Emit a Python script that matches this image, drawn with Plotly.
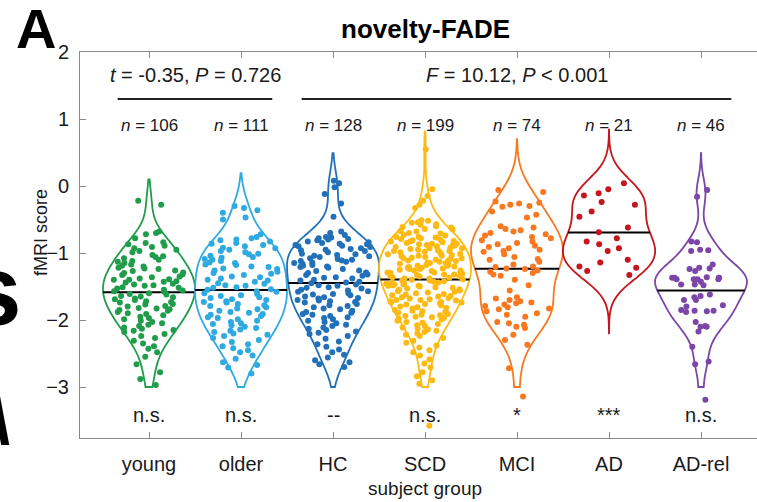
import plotly.graph_objects as go

# ---- data -------------------------------------------------------------
groups = ["young", "older", "HC", "SCD", "MCI", "AD", "AD-rel"]

young = [
    -0.22, -0.28, -0.68, -0.70, -0.72, -0.78, -0.84, -0.85, -0.87, -0.89,
    -0.91, -0.93, -0.95, -0.97, -0.99, -1.03, -1.05, -1.06, -1.08, -1.10,
    -1.12, -1.13, -1.15, -1.17, -1.19, -1.20, -1.22, -1.23, -1.24, -1.26,
    -1.27, -1.29, -1.30, -1.32, -1.33, -1.35, -1.36, -1.38, -1.39, -1.40,
    -1.40, -1.42, -1.43, -1.44, -1.46, -1.47, -1.48, -1.49, -1.51, -1.52,
    -1.53, -1.55, -1.56, -1.57, -1.58, -1.60, -1.61, -1.62, -1.64, -1.65,
    -1.66, -1.68, -1.69, -1.70, -1.72, -1.73, -1.74, -1.76, -1.77, -1.79,
    -1.80, -1.82, -1.83, -1.84, -1.85, -1.86, -1.88, -1.90, -1.91, -1.93,
    -1.95, -1.97, -1.99, -2.01, -2.03, -2.05, -2.07, -2.09, -2.11, -2.13,
    -2.15, -2.16, -2.18, -2.21, -2.24, -2.27, -2.31, -2.35, -2.39, -2.43,
    -2.48, -2.55, -2.66, -2.78, -2.88, -2.97,
]

older = [
    -0.30, -0.33, -0.36, -0.40, -0.47, -0.50, -0.72, -0.76, -0.78, -0.80,
    -0.81, -0.83, -0.85, -0.86, -0.88, -0.90, -0.92, -0.93, -0.95, -0.97,
    -0.99, -1.01, -1.02, -1.04, -1.06, -1.07, -1.09, -1.10, -1.12, -1.14,
    -1.15, -1.17, -1.18, -1.20, -1.21, -1.23, -1.24, -1.26, -1.28, -1.30,
    -1.31, -1.33, -1.35, -1.36, -1.38, -1.40, -1.41, -1.43, -1.45, -1.46,
    -1.48, -1.49, -1.51, -1.52, -1.54, -1.55, -1.57, -1.58, -1.60, -1.61,
    -1.63, -1.64, -1.66, -1.67, -1.69, -1.70, -1.72, -1.73, -1.74, -1.76,
    -1.78, -1.79, -1.81, -1.83, -1.84, -1.86, -1.88, -1.89, -1.91, -1.92,
    -1.94, -1.96, -1.97, -1.99, -2.01, -2.03, -2.05, -2.06, -2.08, -2.10,
    -2.12, -2.14, -2.16, -2.18, -2.20, -2.22, -2.24, -2.27, -2.30, -2.33,
    -2.36, -2.39, -2.42, -2.45, -2.48, -2.53, -2.58, -2.63, -2.67, -2.71,
    -2.80,
]

hc = [
    0.08, 0.04, -0.02, -0.12, -0.26, -0.46, -0.68, -0.70, -0.73, -0.76,
    -0.77, -0.78, -0.79, -0.80, -0.81, -0.83, -0.84, -0.85, -0.86, -0.87,
    -0.88, -0.89, -0.90, -0.91, -0.93, -0.94, -0.95, -0.96, -0.97, -0.99,
    -1.01, -1.02, -1.03, -1.04, -1.05, -1.06, -1.08, -1.09, -1.10, -1.11,
    -1.12, -1.13, -1.14, -1.15, -1.16, -1.18, -1.19, -1.20, -1.21, -1.22,
    -1.24, -1.26, -1.27, -1.29, -1.30, -1.32, -1.33, -1.34, -1.36, -1.37,
    -1.38, -1.40, -1.41, -1.43, -1.44, -1.45, -1.47, -1.48, -1.49, -1.51,
    -1.52, -1.53, -1.55, -1.56, -1.57, -1.58, -1.60, -1.61, -1.62, -1.63,
    -1.65, -1.66, -1.67, -1.68, -1.70, -1.71, -1.72, -1.73, -1.74, -1.76,
    -1.78, -1.79, -1.81, -1.83, -1.84, -1.86, -1.88, -1.89, -1.91, -1.92,
    -1.94, -1.96, -1.97, -1.99, -2.01, -2.03, -2.05, -2.07, -2.09, -2.11,
    -2.13, -2.15, -2.17, -2.19, -2.21, -2.24, -2.28, -2.32, -2.36, -2.40,
    -2.44, -2.48, -2.52, -2.56, -2.60, -2.63, -2.66, -2.70,
]

scd = [
    0.55, -0.05, -0.15, -0.22, -0.28, -0.33,
    -0.51, -0.52, -0.54, -0.55, -0.57, -0.58, -0.60, -0.61, -0.62, -0.64,
    -0.65, -0.67, -0.68, -0.70, -0.71, -0.73, -0.74,
    -0.76, -0.76, -0.77, -0.78, -0.79, -0.80, -0.81, -0.82, -0.83, -0.83,
    -0.84, -0.85, -0.86, -0.86, -0.87, -0.88, -0.88, -0.89, -0.90, -0.91,
    -0.92, -0.93, -0.93, -0.94, -0.95, -0.96, -0.97, -0.97, -0.98, -0.99,
    -0.99,
    -1.01, -1.01, -1.02, -1.03, -1.04, -1.04, -1.05, -1.06, -1.07, -1.08,
    -1.08, -1.09, -1.10, -1.11, -1.11, -1.12, -1.13, -1.14, -1.15, -1.15,
    -1.16, -1.17, -1.18, -1.19, -1.19, -1.20, -1.21, -1.22, -1.22, -1.23,
    -1.24, -1.24, -1.25,
    -1.26, -1.26, -1.27, -1.28, -1.29, -1.29, -1.30, -1.31, -1.32, -1.32,
    -1.33, -1.34, -1.35, -1.35, -1.36, -1.37, -1.38, -1.38, -1.39, -1.40,
    -1.41, -1.41, -1.42, -1.43, -1.44, -1.44, -1.45, -1.46, -1.47, -1.47,
    -1.48, -1.49, -1.49, -1.50,
    -1.51, -1.52, -1.53, -1.54, -1.55, -1.56, -1.57, -1.58, -1.59, -1.60,
    -1.61, -1.62, -1.63, -1.64, -1.65, -1.66, -1.67, -1.68, -1.69, -1.70,
    -1.70, -1.71, -1.72, -1.73, -1.74, -1.74, -1.75,
    -1.76, -1.77, -1.78, -1.80, -1.81, -1.82, -1.83, -1.85, -1.86, -1.87,
    -1.88, -1.89, -1.91, -1.92, -1.93, -1.94, -1.95, -1.96, -1.97, -1.98,
    -1.99,
    -2.01, -2.03, -2.04, -2.06, -2.08, -2.09, -2.11, -2.13, -2.14, -2.16,
    -2.18, -2.20, -2.22, -2.24,
    -2.27, -2.31, -2.34, -2.38, -2.41, -2.45, -2.48,
    -2.53, -2.59, -2.65, -2.71,
    -2.78, -2.84, -2.90, -2.95,
    -3.58,
]

mci = [
    -0.06, -0.09,
    -0.23, -0.25, -0.26, -0.28, -0.30, -0.31,
    -0.38, -0.43, -0.47,
    -0.60, -0.62, -0.64, -0.66, -0.68, -0.70, -0.72, -0.74, -0.76, -0.78,
    -0.81, -0.83, -0.85, -0.87, -0.89, -0.91, -0.93, -0.95,
    -0.97, -0.98, -1.02, -1.06, -1.09, -1.10, -1.13, -1.17,
    -1.20, -1.21, -1.23, -1.24, -1.26, -1.28, -1.30, -1.32, -1.34,
    -1.40, -1.48, -1.56,
    -1.66, -1.68, -1.70, -1.72, -1.74, -1.75, -1.77, -1.79, -1.81, -1.83,
    -1.84,
    -1.87, -1.90, -1.92, -1.95,
    -2.03, -2.05, -2.07, -2.10, -2.12,
    -2.22, -2.30, -2.37,
    -2.72, -3.14,
]

ad = [
    0.04, -0.05, -0.11, -0.14, -0.24, -0.28, -0.38, -0.46, -0.62, -0.69,
    -0.78, -0.83, -0.87, -0.93, -0.97, -1.10, -1.14, -1.20, -1.22, -1.27,
    -1.33,
]

ad_rel = [
    -0.06, -0.16, -0.83, -0.84, -0.95, -0.96, -0.97, -1.17, -1.22, -1.23,
    -1.24, -1.27, -1.36, -1.37, -1.37, -1.37, -1.37, -1.39, -1.39, -1.39,
    -1.39, -1.43, -1.47, -1.47, -1.48, -1.62, -1.64, -1.66, -1.70, -1.70,
    -1.78, -1.80, -1.85, -1.86, -1.86, -1.87, -1.88, -2.03, -2.09, -2.10,
    -2.10, -2.17, -2.40, -2.62, -2.66, -3.19,
]

scores = [young, older, hc, scd, mci, ad, ad_rel]
significance = ["n.s.", "n.s.", "--", "n.s.", "*", "***", "n.s."]
t_test_text = "<i>t</i> = -0.35, <i>P</i> = 0.726"
anova_text = "<i>F</i> = 10.12, <i>P</i> < 0.001"

# ---- styling ----------------------------------------------------------
colors = ["#1f9d4b", "#2eaae1", "#2271b8", "#fdba12", "#f8781f", "#c4161c", "#7b46a8"]
kde_spans = [(-3.0, 0.10), (-3.0, 0.19), (-3.0, 0.49), (-3.0, 0.81),
             (-3.0, 0.70), (-2.2, 0.84), (-3.0, 0.49)]

W, H = 757, 502
ML, MR, MT, MB = 80, 0, 52, 64
PX_PER_GROUP = 92
X_RANGE = [0.25, 0.25 + (W - ML - MR) / PX_PER_GROUP]
Y_RANGE = [-3.761, 2.0]
FONT = "Liberation Sans, Arial, sans-serif"
TXT = "#1a1a1a"
AXIS = "#8a8a8a"


def paper_x(px):
    return (px - ML) / (W - ML - MR)


def paper_y(py):
    return (H - MB - py) / (H - MT - MB)


fig = go.Figure()

for i, (name, vals) in enumerate(zip(groups, scores)):
    fig.add_trace(go.Violin(
        x0=i + 1,
        y=vals,
        name=name,
        line=dict(color=colors[i], width=1.8),
        fillcolor="rgba(0,0,0,0)",
        points="all",
        jitter=0.85,
        pointpos=0,
        marker=dict(color=colors[i], size=6, line=dict(width=0)),
        meanline=dict(visible=True, color="black", width=2),
        box=dict(visible=False),
        spanmode="manual",
        span=list(kde_spans[i]),
        scalemode="width",
        width=1.0,
        hoverinfo="skip",
        showlegend=False,
    ))

annotations = []

# group sizes and per-group significance marks
for i, (vals, sig) in enumerate(zip(scores, significance)):
    annotations.append(dict(
        x=i + 1, y=0.91, xref="x", yref="y",
        text=f"<i>n</i> = {len(vals)}", showarrow=False,
        font=dict(size=17, color=TXT, family=FONT),
    ))
    annotations.append(dict(
        x=i + 1, y=-3.425, xref="x", yref="y",
        text=sig, showarrow=False,
        font=dict(size=20, color=TXT, family=FONT),
    ))

# test statistics above the comparison bars
annotations.append(dict(x=1.5, y=1.65, xref="x", yref="y", text=t_test_text,
                        showarrow=False, font=dict(size=20, color=TXT, family=FONT)))
annotations.append(dict(x=5.0, y=1.65, xref="x", yref="y", text=anova_text,
                        showarrow=False, font=dict(size=20, color=TXT, family=FONT)))

# title, panel letter, axis titles
annotations.append(dict(x=paper_x(425), y=paper_y(29), xref="paper", yref="paper",
                        text="<b>novelty-FADE</b>", showarrow=False,
                        xanchor="center", yanchor="middle",
                        font=dict(size=26, color="black", family=FONT)))
annotations.append(dict(x=paper_x(36), y=paper_y(28), xref="paper", yref="paper",
                        text="<b>A</b>", showarrow=False,
                        xanchor="center", yanchor="middle",
                        font=dict(size=56, color="black", family=FONT)))
annotations.append(dict(x=paper_x(41), y=paper_y(233), xref="paper", yref="paper",
                        text="fMRI score", textangle=-90, showarrow=False,
                        xanchor="center", yanchor="middle",
                        font=dict(size=18, color=TXT, family=FONT)))
annotations.append(dict(x=paper_x(425), y=paper_y(488), xref="paper", yref="paper",
                        text="subject group", showarrow=False,
                        xanchor="center", yanchor="middle",
                        font=dict(size=19, color=TXT, family=FONT)))

# edges of the neighbouring panel's lettering
annotations.append(dict(x=paper_x(24), y=paper_y(290), xref="paper", yref="paper",
                        text="<b>s</b>", showarrow=False,
                        xanchor="right", yanchor="middle",
                        font=dict(size=100, color="black", family=FONT)))
annotations.append(dict(x=paper_x(12), y=paper_y(420), xref="paper", yref="paper",
                        text="<b>\\</b>", showarrow=False,
                        xanchor="right", yanchor="middle",
                        font=dict(size=68, color="black", family=FONT)))

# comparison bars
shapes = [
    dict(type="line", xref="x", yref="y", x0=0.66, x1=2.34, y0=1.30, y1=1.30,
         line=dict(color="#222222", width=2)),
    dict(type="line", xref="x", yref="y", x0=2.66, x1=7.33, y0=1.30, y1=1.30,
         line=dict(color="#222222", width=2)),
]

fig.update_layout(
    width=W, height=H,
    margin=dict(l=ML, r=MR, t=MT, b=MB, pad=0),
    plot_bgcolor="white", paper_bgcolor="white",
    violinmode="overlay",
    annotations=annotations,
    shapes=shapes,
    font=dict(family=FONT, color=TXT),
    xaxis=dict(
        type="linear", range=X_RANGE,
        tickmode="array", tickvals=list(range(1, len(groups) + 1)), ticktext=groups,
        ticks="inside", ticklen=6, tickcolor=AXIS, tickwidth=1,
        showline=True, linecolor=AXIS, linewidth=1, mirror="ticks",
        showgrid=False, zeroline=False,
        tickfont=dict(size=20, color=TXT, family=FONT),
        ticklabelstandoff=8,
    ),
    yaxis=dict(
        range=Y_RANGE,
        tickmode="array", tickvals=[-3, -2, -1, 0, 1, 2],
        ticks="inside", ticklen=6, tickcolor=AXIS, tickwidth=1,
        showline=True, linecolor=AXIS, linewidth=1,
        showgrid=False, zeroline=False,
        tickfont=dict(size=20, color=TXT, family=FONT),
        ticklabelstandoff=6,
    ),
)

# mean lines drawn solid rather than plotly's default dashes
solid_mean_js = (
    "var st = document.createElement('style');"
    "st.textContent = '.violinlayer path { stroke-dasharray: none !important; }';"
    "document.head.appendChild(st);"
    "document.querySelectorAll('.violinlayer path').forEach(function (p) {"
    "  p.style.strokeDasharray = 'none'; p.removeAttribute('stroke-dasharray'); });"
)

fig.write_html("out.html", post_script=solid_mean_js)
